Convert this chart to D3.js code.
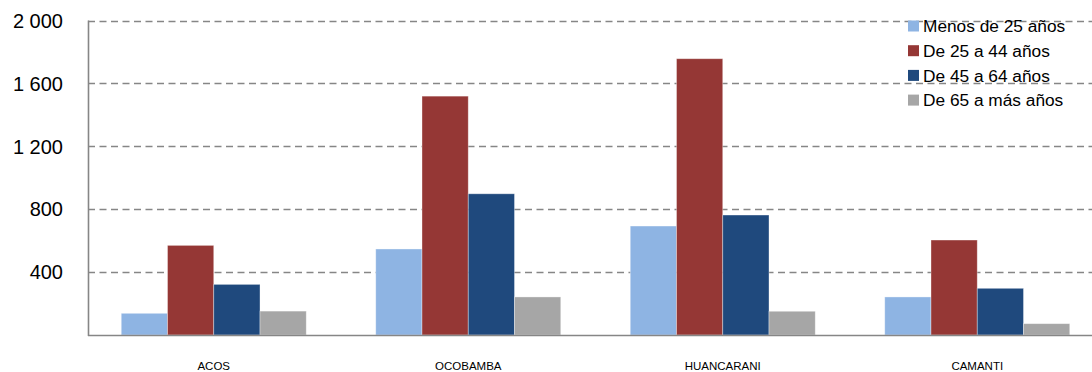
<!DOCTYPE html>
<html>
<head>
<meta charset="utf-8">
<script src="https://cdn.jsdelivr.net/npm/d3@7"></script>
<style>
  html, body { margin: 0; padding: 0; background: #fff; }
  svg { display: block; }
  text { font-family: "Liberation Sans", Arial, sans-serif; fill: #000; }
</style>
</head>
<body>
<svg id="chart" width="1092" height="372"></svg>
<script>
const categories = ["ACOS", "OCOBAMBA", "HUANCARANI", "CAMANTI"];
const seriesNames = ["Menos de 25 años", "De 25 a 44 años", "De 45 a 64 años", "De 65 a más años"];
const menos25 = [138, 547, 693, 242];
const de25a44 = [570, 1519, 1757, 604];
const de45a64 = [322, 898, 763, 297];
const de65mas = [152, 242, 151, 72];
const yTicks = [400, 800, 1200, 1600, 2000];
const yTickLabels = ["400", "800", "1 200", "1 600", "2 000"];
const colors = ["#8EB4E3", "#953735", "#1F497D", "#A6A6A6"];

const seriesValues = [menos25, de25a44, de45a64, de65mas];

const svg = d3.select("#chart");
const W = 1092, H = 372;
const x0 = 88, xLineEnd = W;
const yBase = 335;

// category bands (plot area extends slightly past the right edge of the image)
const x = d3.scaleBand().domain(categories).range([86.5, 1104.5]);
const groupWidth = x.bandwidth() * 0.727;
const xs = d3.scaleBand().domain(d3.range(seriesNames.length)).range([0, groupWidth]);
const y = d3.scaleLinear().domain([0, 2000]).range([yBase, 20.5]);

// gridlines
svg.append("g").selectAll("line").data(yTicks).join("line")
  .attr("x1", x0).attr("x2", xLineEnd)
  .attr("y1", d => Math.round(y(d)) + 0.5).attr("y2", d => Math.round(y(d)) + 0.5)
  .attr("stroke", "#868686").attr("stroke-width", 1.6)
  .attr("stroke-dasharray", "7,4.5");

// bars
const groups = svg.append("g").selectAll("g").data(categories).join("g")
  .attr("transform", d => `translate(${x(d) + (x.bandwidth() - groupWidth) / 2},0)`);
groups.selectAll("rect").data((c, ci) => seriesValues.map((s, si) => ({ si, v: s[ci] })))
  .join("rect")
  .attr("x", d => xs(d.si))
  .attr("width", xs.bandwidth())
  .attr("y", d => y(d.v))
  .attr("height", d => yBase - y(d.v))
  .attr("fill", d => colors[d.si])
  .attr("stroke", "rgba(255,255,255,0.45)")
  .attr("stroke-width", 0.8);

// axes lines
svg.append("line").attr("x1", x0 + 0.5).attr("x2", x0 + 0.5).attr("y1", y(2000)).attr("y2", yBase + 1)
  .attr("stroke", "#868686").attr("stroke-width", 1.6);
svg.append("line").attr("x1", x0).attr("x2", xLineEnd).attr("y1", yBase + 0.5).attr("y2", yBase + 0.5)
  .attr("stroke", "#868686").attr("stroke-width", 1.6);

// y labels
svg.append("g").selectAll("text").data(yTicks).join("text")
  .attr("x", 63).attr("y", d => y(d))
  .attr("dy", "0.36em")
  .attr("text-anchor", "end")
  .attr("font-size", 20)
  .text((d, i) => yTickLabels[i]);

// x labels
svg.append("g").selectAll("text").data(categories).join("text")
  .attr("x", d => x(d) + x.bandwidth() / 2)
  .attr("y", 370)
  .attr("text-anchor", "middle")
  .attr("font-size", 11.5)
  .text(d => d);

// legend
const leg = svg.append("g").selectAll("g").data(seriesNames).join("g")
  .attr("transform", (d, i) => `translate(908,${26 + i * 24.7})`);
leg.append("rect").attr("x", 0).attr("y", -5.5).attr("width", 11).attr("height", 11)
  .attr("fill", (d, i) => colors[i]);
leg.append("text").attr("x", 15).attr("y", 0).attr("dy", "0.36em")
  .attr("font-size", 17.3).text(d => d);
</script>
</body>
</html>
